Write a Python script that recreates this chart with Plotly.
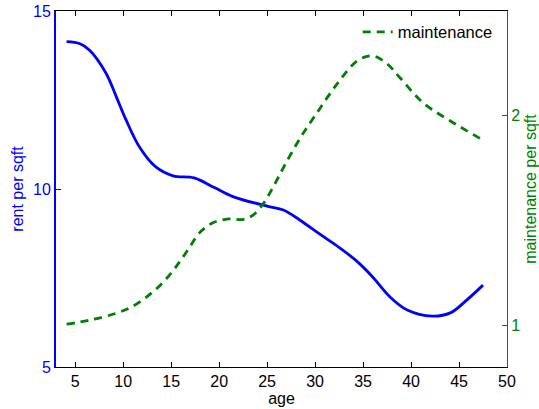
import plotly.graph_objects as go

# Rent per square foot by building age
age_rent = [4.1, 5.5, 6.5, 8.2, 9.3, 10.3, 11.7, 13.4, 15.2, 17.4, 19.5, 21.5, 25.0,
            26.7, 28.4, 30.5, 32.6, 34.4, 36.0, 37.8, 39.6, 42.2, 44.1, 45.8, 47.5]
rent = [14.14, 14.08, 13.9, 13.26, 12.58, 11.94, 11.18, 10.62, 10.37, 10.31, 10.04, 9.78,
        9.52, 9.41, 9.13, 8.73, 8.34, 7.96, 7.53, 6.97, 6.6, 6.43, 6.52, 6.88, 7.30]

# Maintenance per square foot by building age
age_maint = [4.1, 6.5, 9.3, 11.0, 12.4, 13.75, 15.0, 16.0, 16.9, 17.9, 19.4, 21.0, 22.5,
             23.5, 24.6, 25.6, 26.7, 28.4, 30.2, 32.3, 34.4, 36.0, 37.5, 38.85, 41.25,
             44.06, 47.4]
maint = [1.005, 1.024, 1.057, 1.09, 1.133, 1.186, 1.248, 1.31, 1.37, 1.438, 1.49, 1.507,
         1.505, 1.524, 1.58, 1.657, 1.752, 1.89, 2.014, 2.152, 2.262, 2.286, 2.248, 2.181,
         2.062, 1.976, 1.886]

BLUE = "rgb(0,0,255)"
GREEN = "rgb(0,128,0)"
FONT = "Liberation Sans, Arial, sans-serif"
FS = 16

fig = go.Figure()
fig.add_trace(go.Scatter(
    x=age_rent, y=rent, mode="lines", name="rent",
    line=dict(color=BLUE, width=2.8, shape="spline", smoothing=1.0),
    showlegend=False, yaxis="y"))
fig.add_trace(go.Scatter(
    x=age_maint, y=maint, mode="lines", name="maintenance",
    line=dict(color=GREEN, width=2.8, dash="8px,6px", shape="spline", smoothing=1.0),
    yaxis="y2"))

fig.update_layout(
    width=539, height=409,
    margin=dict(l=56, r=32, t=11, b=42),
    paper_bgcolor="white", plot_bgcolor="white",
    font=dict(family=FONT, size=FS, color="black"),
    xaxis=dict(
        range=[3, 50], tickvals=[5, 10, 15, 20, 25, 30, 35, 40, 45, 50],
        ticks="inside", ticklen=5, tickcolor="black", tickwidth=1,
        showline=True, linecolor="black", linewidth=1, mirror="ticks",
        showgrid=False, zeroline=False, automargin=False,
        tickfont=dict(size=FS),
        title=dict(text="age", standoff=0, font=dict(size=FS)),
    ),
    yaxis=dict(
        range=[5, 15], tickvals=[5, 10, 15],
        ticks="inside", ticklen=5, tickcolor=BLUE, tickwidth=1,
        showline=True, linecolor=BLUE, linewidth=2,
        showgrid=False, zeroline=False, automargin=False,
        tickfont=dict(color=BLUE, size=FS),
        title=dict(text="rent per sqft", standoff=5, font=dict(color=BLUE, size=FS)),
    ),
    yaxis2=dict(
        range=[0.8, 2.5], tickvals=[1, 2],
        overlaying="y", side="right",
        ticks="inside", ticklen=5, tickcolor=GREEN, tickwidth=1,
        showline=True, linecolor=GREEN, linewidth=1,
        showgrid=False, zeroline=False, automargin=False,
        tickfont=dict(color=GREEN, size=FS),
        title=dict(text="maintenance per sqft", standoff=8, font=dict(color=GREEN, size=FS)),
    ),
    # rent scale ticks repeated on the right edge, no labels or line
    yaxis3=dict(
        range=[5, 15], tickvals=[5, 10, 15],
        overlaying="y", side="right", matches="y",
        ticks="inside", ticklen=5, tickcolor=BLUE, tickwidth=1,
        showticklabels=False, showline=False,
        showgrid=False, zeroline=False, automargin=False,
    ),
    legend=dict(
        x=0.669, y=0.99, xanchor="left", yanchor="top",
        bgcolor="rgba(0,0,0,0)", borderwidth=0,
        font=dict(size=16.5, color="black"),
    ),
)

fig.write_html("out.html")
